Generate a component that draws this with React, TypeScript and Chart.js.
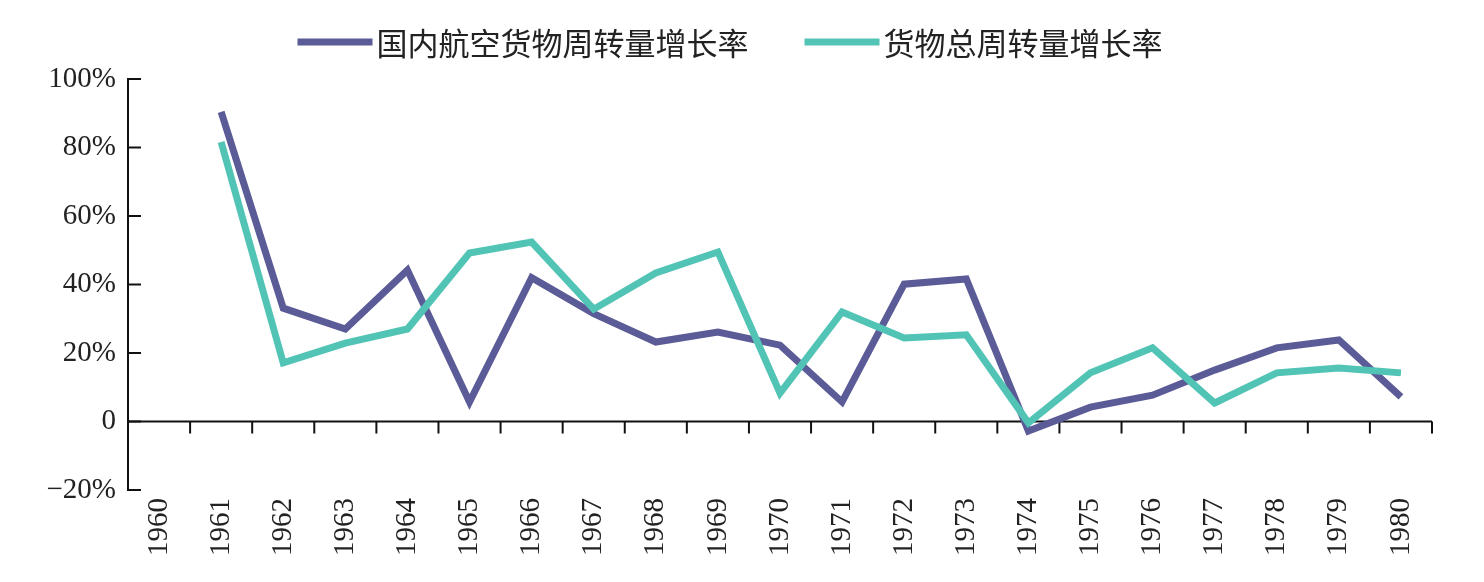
import { useEffect, useRef } from 'react';
import { Chart, registerables } from 'chart.js';

Chart.register(...registerables);

const years = [
  '1960', '1961', '1962', '1963', '1964', '1965', '1966', '1967', '1968', '1969', '1970',
  '1971', '1972', '1973', '1974', '1975', '1976', '1977', '1978', '1979', '1980',
];

const domesticAirCargoGrowth = [
  null, 90.4, 33.1, 27.0, 44.2, 5.7, 42.0, 31.5, 23.2, 26.1, 22.3,
  5.7, 40.1, 41.6, -2.8, 4.2, 7.7, 15.0, 21.5, 23.8, 7.2,
];

const totalCargoGrowth = [
  null, 81.6, 17.1, 22.9, 27.0, 49.2, 52.4, 32.8, 43.4, 49.5, 8.3,
  32.0, 24.4, 25.3, -0.4, 14.2, 21.5, 5.4, 14.2, 15.6, 14.2,
];

const seriesNames = ['国内航空货物周转量增长率', '货物总周转量增长率'];
const seriesColors = ['#5b5b97', '#52c4b6'];

const yMin = -20;
const yMax = 100;
const yStep = 20;

const latinFont = "'Liberation Serif', 'Times New Roman', serif";
const cjkFont = "'Noto Sans CJK SC', 'Liberation Serif', serif";
const textColor = '#222';

const axesPlugin = {
  id: 'customAxes',
  beforeDatasetsDraw(chart: any) {
    const { ctx, chartArea, scales } = chart;
    const x = scales.x;
    const y = scales.y;
    ctx.save();
    ctx.strokeStyle = '#111';
    ctx.lineWidth = 2;
    ctx.lineCap = 'butt';
    const left = chartArea.left;
    // y axis line
    ctx.beginPath();
    ctx.moveTo(left, y.getPixelForValue(yMax) - 1);
    ctx.lineTo(left, y.getPixelForValue(yMin) + 1);
    ctx.stroke();
    // inward y ticks
    y.ticks.forEach((t: any) => {
      const py = y.getPixelForValue(t.value);
      ctx.beginPath();
      ctx.moveTo(left, py);
      ctx.lineTo(left + 13, py);
      ctx.stroke();
    });
    // zero line
    const y0 = y.getPixelForValue(0);
    ctx.beginPath();
    ctx.moveTo(left, y0);
    ctx.lineTo(chartArea.right, y0);
    ctx.stroke();
    // category boundary ticks
    const n = years.length;
    const step = x.getPixelForValue(1) - x.getPixelForValue(0);
    for (let i = 0; i < n; i++) {
      const bx = x.getPixelForValue(i) + step / 2;
      ctx.beginPath();
      ctx.moveTo(bx, y0);
      ctx.lineTo(bx, y0 + 12);
      ctx.stroke();
    }
    ctx.restore();
  },
};

const legendPlugin = {
  id: 'topLegend',
  afterDraw(chart: any) {
    const { ctx } = chart;
    ctx.save();
    ctx.font = `31px ${cjkFont}`;
    ctx.textBaseline = 'middle';
    ctx.textAlign = 'left';
    const lineW = 75;
    const gapText = 4;
    const gapItems = 56;
    const widths = seriesNames.map((s) => ctx.measureText(s).width);
    const total = widths.reduce((a, w) => a + lineW + gapText + w, 0) + gapItems * (seriesNames.length - 1);
    let cx = 730 - total / 2;
    const cy = 42;
    seriesNames.forEach((name, i) => {
      ctx.fillStyle = seriesColors[i];
      ctx.fillRect(cx, cy - 3.5, lineW, 7);
      ctx.fillStyle = textColor;
      ctx.fillText(name, cx + lineW + gapText, cy + 1);
      cx += lineW + gapText + widths[i] + gapItems;
    });
    ctx.restore();
  },
};

export default function App() {
  const canvasRef = useRef<HTMLCanvasElement | null>(null);

  useEffect(() => {
    if (!canvasRef.current) return;
    const chart = new Chart(canvasRef.current, {
      type: 'line',
      data: {
        labels: years,
        datasets: [
          {
            label: seriesNames[0],
            data: domesticAirCargoGrowth,
            borderColor: seriesColors[0],
            backgroundColor: seriesColors[0],
            borderWidth: 7,
            pointRadius: 0,
            tension: 0,
            borderJoinStyle: 'miter',
            order: 1,
          },
          {
            label: seriesNames[1],
            data: totalCargoGrowth,
            borderColor: seriesColors[1],
            backgroundColor: seriesColors[1],
            borderWidth: 7,
            pointRadius: 0,
            tension: 0,
            borderJoinStyle: 'miter',
            order: 0,
          },
        ],
      },
      options: {
        animation: false,
        responsive: false,
        layout: { padding: { top: 79, right: 52, bottom: 0, left: 0 } },
        plugins: {
          legend: { display: false },
          tooltip: { enabled: false },
        },
        scales: {
          x: {
            type: 'category',
            offset: true,
            grid: { display: false },
            border: { display: false },
            ticks: {
              autoSkip: false,
              minRotation: 90,
              maxRotation: 90,
              padding: 0,
              color: textColor,
              font: { family: latinFont, size: 29 },
            },
            afterFit(s: any) {
              s.height = 92;
            },
          },
          y: {
            min: yMin,
            max: yMax,
            grid: { display: false },
            border: { display: false },
            ticks: {
              stepSize: yStep,
              padding: 4,
              color: textColor,
              font: { family: latinFont, size: 29 },
              callback: (v: any) => (v === 0 ? '0' : v < 0 ? `\u2212${Math.abs(v)}%` : `${v}%`),
            },
            afterFit(s: any) {
              s.width = 128;
            },
          },
        },
      },
      plugins: [axesPlugin, legendPlugin],
    });
    return () => chart.destroy();
  }, []);

  return (
    <div style={{ position: 'absolute', left: 0, top: 0, width: 1484, height: 582, background: '#fff' }}>
      <canvas ref={canvasRef} width={1484} height={582} style={{ display: 'block' }} />
    </div>
  );
}
